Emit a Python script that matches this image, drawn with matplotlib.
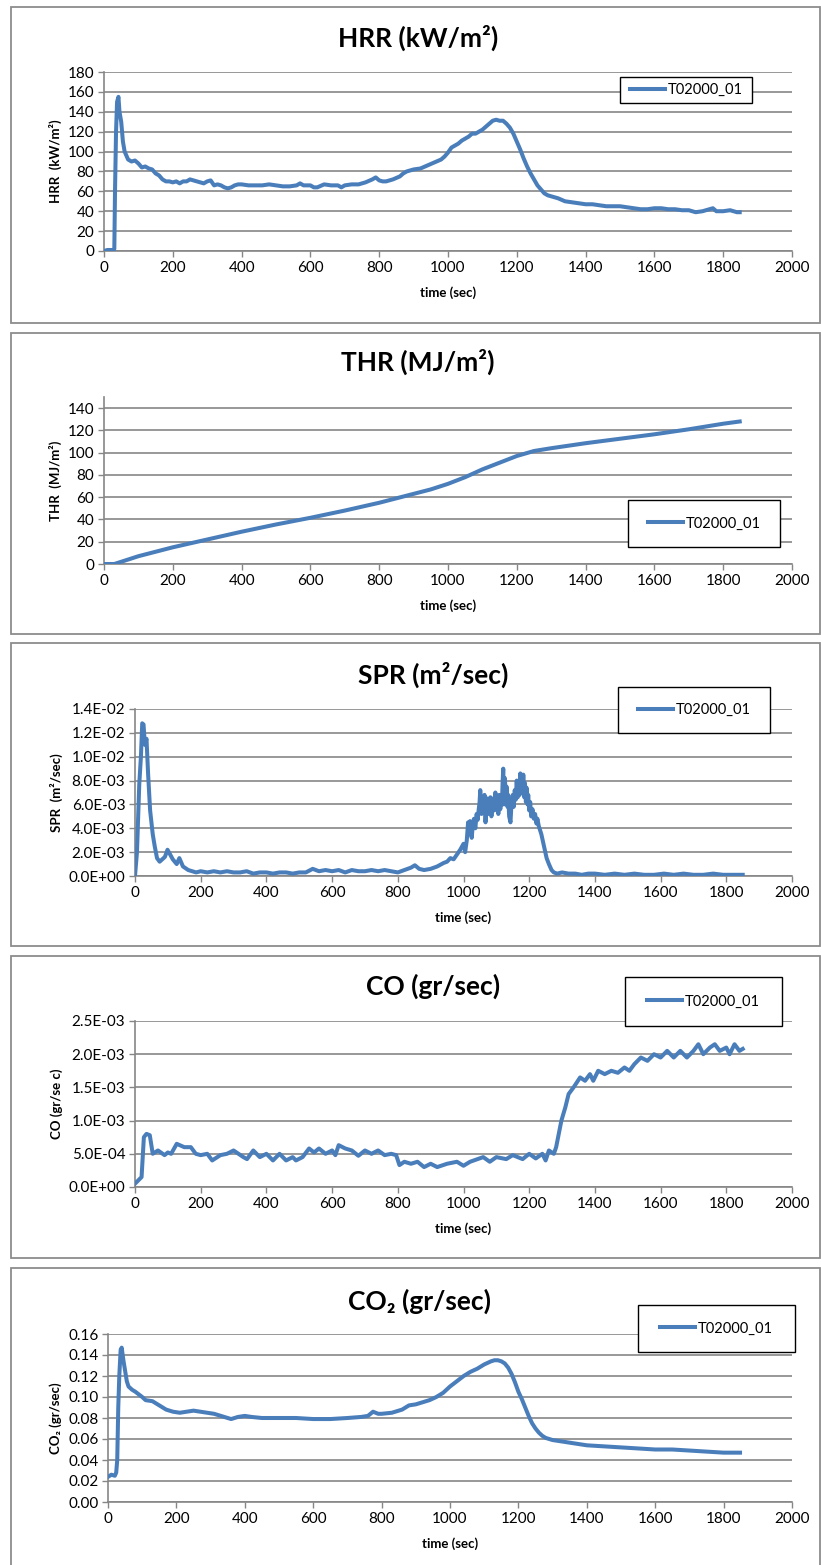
import matplotlib
matplotlib.use("Agg")
import matplotlib.pyplot as plt
from matplotlib.patches import Rectangle
from matplotlib.ticker import FuncFormatter, MultipleLocator

plt.rcParams['font.family'] = ['Lato', 'DejaVu Sans']

series_name = "T02000_01"
xlabel_text = "time (sec)"

# ---------------- data ----------------
hrr_t = [0, 10, 20, 28, 30, 32, 35, 38, 42, 45, 50, 55, 60, 70, 80, 90, 100, 110, 120, 130,
         140, 150, 160, 170, 180, 190, 200, 210, 220, 230, 240, 250, 260, 270, 280, 290, 300,
         310, 320, 330, 340, 350, 360, 370, 380, 390, 400, 420, 440, 460, 480, 500, 520, 540,
         560, 570, 580, 600, 610, 620, 640, 660, 680, 690, 700, 720, 740, 760, 780, 790, 800,
         810, 820, 840, 860, 870, 880, 900, 920, 940, 960, 980, 990, 1000, 1010, 1020, 1030,
         1040, 1060, 1070, 1080, 1100, 1110, 1120, 1130, 1140, 1150, 1160, 1170, 1180, 1190,
         1200, 1210, 1220, 1230, 1240, 1250, 1260, 1270, 1280, 1290, 1300, 1320, 1340, 1360,
         1380, 1400, 1420, 1440, 1460, 1480, 1500, 1520, 1540, 1560, 1580, 1600, 1620, 1640,
         1660, 1680, 1700, 1720, 1740, 1760, 1770, 1780, 1800, 1820, 1840, 1848]
hrr_v = [0, 1, 1, 1, 2, 60, 120, 150, 155, 140, 130, 110, 100, 92, 90, 91, 88, 84, 85, 83,
         82, 78, 76, 72, 70, 70, 69, 70, 68, 70, 70, 72, 71, 70, 69, 68, 70,
         71, 66, 67, 66, 64, 63, 64, 66, 67, 67, 66, 66, 66, 67, 66, 65, 65,
         66, 68, 66, 66, 64, 64, 67, 66, 66, 64, 66, 67, 67, 69, 72, 74, 71,
         70, 70, 72, 75, 78, 80, 82, 83, 86, 89, 92, 95, 99, 104, 106, 108,
         111, 115, 118, 118, 122, 125, 128, 131, 132, 131, 131, 128, 124, 118,
         110, 102, 93, 85, 78, 72, 66, 62, 58, 56, 55, 53, 50, 49,
         48, 47, 47, 46, 45, 45, 45, 44, 43, 42, 42, 43, 43, 42,
         42, 41, 41, 39, 40, 42, 43, 40, 40, 41, 39, 39]

thr_t = [0, 30, 50, 80, 100, 150, 200, 250, 300, 400, 500, 600, 700, 800, 850, 900, 950,
         1000, 1050, 1100, 1150, 1200, 1250, 1300, 1400, 1500, 1600, 1700, 1800, 1848]
thr_v = [0, 0, 2, 5, 7, 11, 15, 18.5, 22, 29, 35.5, 41.5, 48, 55, 59, 63, 67,
         72, 78, 85, 91, 97, 101.5, 104, 108.5, 112.5, 116.5, 121, 126, 128]

spr_t = [0, 6, 13, 18, 22, 26, 30, 35, 40, 46, 54, 60, 67, 75, 83, 91, 99, 107, 115, 121,
         127, 135, 146, 162, 186, 200, 220, 240, 260, 280, 300, 320, 340, 360, 380, 400,
         420, 440, 460, 480, 500, 520, 541, 560, 580, 600, 620, 640, 660, 680, 700, 720,
         740, 760, 780, 800, 820, 840, 852, 865, 880, 900, 920, 940, 950, 960, 970, 980,
         990, 1000, 1005, 1010, 1014, 1017, 1020, 1025, 1029, 1032, 1036, 1040, 1043, 1046,
         1049, 1051, 1055, 1058, 1061, 1064, 1067, 1070, 1073, 1076, 1079, 1082, 1085, 1088,
         1091, 1094, 1097, 1100, 1103, 1106, 1109, 1112, 1115, 1117, 1119, 1121, 1123, 1126,
         1129, 1131, 1134, 1136, 1139, 1143, 1146, 1150, 1153, 1156, 1159, 1162, 1165, 1168,
         1171, 1173, 1175, 1177, 1180, 1182, 1185, 1187, 1190, 1192, 1195, 1197, 1200, 1203,
         1206, 1210, 1214, 1218, 1222, 1225, 1229,
         1237, 1245, 1253, 1260, 1268, 1275, 1285, 1300, 1320, 1340, 1360, 1380, 1400, 1430,
         1460, 1490, 1520, 1550, 1580, 1610, 1640, 1670, 1700, 1730, 1760, 1790, 1820, 1850]
spr_v = [0.0, 0.0020, 0.0077, 0.0100, 0.0128, 0.0127, 0.0110, 0.0115, 0.0085, 0.0055, 0.0035,
         0.0025, 0.0015, 0.0012, 0.0014, 0.0016, 0.0022, 0.0018, 0.0014, 0.0012,
         0.0010, 0.0015, 0.0008, 0.0005, 0.0003, 0.0004, 0.0003, 0.0004, 0.0003, 0.0004,
         0.0003, 0.0003, 0.0004, 0.0002, 0.0003, 0.0003,
         0.0002, 0.0003, 0.0003, 0.0002, 0.0003, 0.0003, 0.0006, 0.0004, 0.0005, 0.0004,
         0.0005, 0.0003, 0.0005, 0.0004, 0.0004, 0.0005,
         0.0004, 0.0005, 0.0004, 0.0003, 0.0005, 0.0007, 0.0009, 0.0006, 0.0005, 0.0006,
         0.0008, 0.0011, 0.0012, 0.0015, 0.0014, 0.0018,
         0.0022, 0.0027, 0.0020, 0.0030, 0.0045, 0.0035, 0.0046, 0.0032, 0.0045, 0.0048,
         0.0040, 0.0052, 0.0047, 0.0055,
         0.0062, 0.0072, 0.0052, 0.0062, 0.0055, 0.0068, 0.0045, 0.0058, 0.0065, 0.0052,
         0.0062, 0.0066, 0.0050, 0.0060,
         0.0065, 0.0055, 0.0070, 0.0058, 0.0066, 0.0052, 0.0068, 0.0056, 0.0066, 0.0060,
         0.0078, 0.0090, 0.0060, 0.0082,
         0.0062, 0.0075, 0.0058, 0.0068, 0.0050, 0.0045, 0.0060, 0.0068, 0.0058, 0.0072,
         0.0064, 0.0080, 0.0066, 0.0075,
         0.0068, 0.0086, 0.0070, 0.0082, 0.0072, 0.0085, 0.0066, 0.0078, 0.0062, 0.0074,
         0.0060, 0.0068, 0.0055, 0.0062,
         0.0050, 0.0056, 0.0048, 0.0052, 0.0044, 0.0048, 0.0042,
         0.0035, 0.0025, 0.0015, 0.0010, 0.0005, 0.0003, 0.0002, 0.0003, 0.0002, 0.0002,
         0.0001, 0.0002, 0.0002, 0.0001,
         0.0002, 0.0001, 0.0002, 0.0001, 0.0001, 0.0002, 0.0001, 0.0002, 0.0001, 0.0001,
         0.0002, 0.0001, 0.0001, 0.0001]

co_t = [0, 10, 20, 27, 35, 45, 54, 70, 90, 100, 110, 127, 150, 170, 185, 200, 220, 235, 260,
        280, 300, 330, 341, 360, 380, 400, 420, 440, 460, 480, 490, 510, 530, 545, 560, 580,
        600, 610, 620, 640, 660, 680, 700, 720, 740, 760, 780, 795, 805, 820, 840, 860, 880,
        900, 920, 950, 980, 1000, 1020, 1060, 1080, 1100, 1130, 1150, 1180, 1200, 1220, 1240,
        1250, 1260, 1275, 1282, 1290, 1298, 1310, 1320, 1335, 1355, 1370, 1385, 1395, 1410,
        1430, 1450, 1470, 1490, 1505, 1520, 1540, 1560, 1580, 1600, 1620, 1640, 1660, 1680,
        1700, 1715, 1730, 1750, 1765, 1780, 1800, 1810, 1825, 1840, 1850]
co_v = [0.5e-4, 1.0e-4, 1.5e-4, 7.5e-4, 8.0e-4, 7.8e-4, 5.0e-4, 5.5e-4, 4.8e-4, 5.2e-4, 5.0e-4,
        6.5e-4, 6.0e-4, 6.0e-4, 5.0e-4, 4.8e-4, 5.0e-4, 4.0e-4, 4.8e-4,
        5.0e-4, 5.5e-4, 4.5e-4, 4.2e-4, 5.5e-4, 4.5e-4, 5.0e-4, 4.0e-4, 5.0e-4, 4.0e-4, 4.5e-4,
        4.0e-4, 4.5e-4, 5.8e-4, 5.2e-4, 5.8e-4, 5.0e-4,
        5.5e-4, 4.8e-4, 6.3e-4, 5.8e-4, 5.5e-4, 4.7e-4, 5.5e-4, 5.0e-4, 5.5e-4, 4.8e-4, 5.0e-4,
        4.8e-4, 3.3e-4, 3.8e-4, 3.5e-4, 3.8e-4, 3.0e-4,
        3.5e-4, 3.0e-4, 3.5e-4, 3.8e-4, 3.2e-4, 3.8e-4, 4.5e-4, 3.8e-4, 4.5e-4, 4.2e-4, 4.8e-4,
        4.2e-4, 5.0e-4, 4.3e-4, 5.0e-4,
        4.0e-4, 5.5e-4, 5.0e-4, 6.0e-4, 8.0e-4, 1.0e-3, 1.2e-3, 1.4e-3, 1.5e-3, 1.65e-3,
        1.6e-3, 1.7e-3, 1.6e-3, 1.75e-3,
        1.7e-3, 1.75e-3, 1.72e-3, 1.8e-3, 1.75e-3, 1.85e-3, 1.95e-3, 1.9e-3, 2.0e-3, 1.95e-3,
        2.05e-3, 1.95e-3, 2.05e-3, 1.95e-3,
        2.05e-3, 2.15e-3, 2.0e-3, 2.1e-3, 2.15e-3, 2.05e-3, 2.1e-3, 2.0e-3, 2.15e-3, 2.05e-3,
        2.08e-3]

co2_t = [0, 10, 20, 24, 27, 30, 33, 37, 40, 45, 50, 55, 60, 70, 80, 100, 110, 130, 150, 170,
         190, 210, 230, 250, 270, 290, 310, 330, 350, 360, 380, 400, 420, 450, 500, 550, 600,
         650, 700, 740, 760, 775, 790, 800, 830, 860, 880, 900, 920, 940, 960, 980, 1000,
         1020, 1040, 1060, 1080, 1100, 1120, 1130, 1140, 1150, 1160, 1170, 1180, 1190, 1200,
         1210, 1220, 1230, 1240, 1250, 1260, 1270, 1280, 1300, 1320, 1340, 1360, 1380, 1400,
         1450, 1500, 1550, 1600, 1650, 1700, 1750, 1800, 1848]
co2_v = [0.024, 0.026, 0.025, 0.028, 0.040, 0.090, 0.120, 0.145, 0.147, 0.135, 0.125, 0.115,
         0.110, 0.107, 0.105, 0.100, 0.097, 0.096, 0.092, 0.088,
         0.086, 0.085, 0.086, 0.087, 0.086, 0.085, 0.084, 0.082, 0.080, 0.079, 0.081, 0.082,
         0.081, 0.080, 0.080, 0.080, 0.079,
         0.079, 0.080, 0.081, 0.082, 0.086, 0.084, 0.084, 0.085, 0.088, 0.092, 0.093, 0.095,
         0.097, 0.100, 0.104, 0.110,
         0.115, 0.120, 0.124, 0.127, 0.131, 0.134, 0.135, 0.135, 0.134, 0.132, 0.128, 0.122,
         0.114, 0.105,
         0.098, 0.090, 0.082, 0.075, 0.070, 0.066, 0.063, 0.061, 0.059, 0.058, 0.057, 0.056,
         0.055, 0.054,
         0.053, 0.052, 0.051, 0.050, 0.050, 0.049, 0.048, 0.047, 0.047]

# ---------------- layout ----------------
W, H = 821, 1565
fig = plt.figure(figsize=(W / 100, H / 100), dpi=100)

GRID = '#868686'
LINE = '#4A7EBB'


def fx(px):
    return px / W


def fy(py):
    return 1 - py / H


def sci(v, pos):
    return "%.1E" % v


panels = [
    dict(t=hrr_t, v=hrr_v, title="HRR (kW/m\u00b2)", ylabel="HRR  (kW/m\u00b2)",
         box=(11, 7, 820, 323), ax=(104, 72, 792, 251), ylim=(0, 180), step=20,
         fmt=None, title_y=38, leg=(620, 77, 752, 103)),
    dict(t=thr_t, v=thr_v, title="THR (MJ/m\u00b2)", ylabel="THR  (MJ/m\u00b2)",
         box=(11, 333, 820, 634), ax=(104, 397, 792, 564), ylim=(0, 150), step=20,
         fmt=None, title_y=362, leg=(628, 500, 780, 547)),
    dict(t=spr_t, v=spr_v, title="SPR (m\u00b2/sec)", ylabel="SPR  (m\u00b2/sec)",
         box=(11, 643, 820, 946), ax=(135, 709, 792, 876), ylim=(0, 0.014), step=0.002,
         fmt=sci, title_y=675, leg=(618, 687, 770, 733)),
    dict(t=co_t, v=co_v, title="CO (gr/sec)", ylabel="CO (gr/se c)",
         box=(11, 956, 820, 1258), ax=(135, 1021, 792, 1187), ylim=(0, 0.0025), step=0.0005,
         fmt=sci, title_y=986, leg=(625, 977, 782, 1026)),
    dict(t=co2_t, v=co2_v, title="CO\u2082 (gr/sec)", ylabel="CO\u2082 (gr/sec)",
         box=(11, 1268, 820, 1575), ax=(108, 1334, 792, 1502), ylim=(0, 0.16), step=0.02,
         fmt="%.2f", title_y=1301, leg=(638, 1305, 795, 1352)),
]

for p in panels:
    bx0, by0, bx1, by1 = p['box']
    fig.patches.append(Rectangle((fx(bx0), fy(by1)), fx(bx1 - bx0), (by1 - by0) / H,
                                 transform=fig.transFigure, fill=False,
                                 edgecolor='#8C8C8C', linewidth=1.3, zorder=0))
    ax0, ay0, ax1, ay1 = p['ax']
    ax = fig.add_axes([fx(ax0), fy(ay1), fx(ax1 - ax0), (ay1 - ay0) / H])
    line, = ax.plot(p['t'], p['v'], color=LINE, linewidth=2.9, solid_joinstyle='round',
                    label=series_name, zorder=3)
    ax.set_xlim(0, 2000)
    ax.set_ylim(*p['ylim'])
    ax.xaxis.set_major_locator(MultipleLocator(200))
    ax.yaxis.set_major_locator(MultipleLocator(p['step']))
    if p['fmt'] is sci:
        ax.yaxis.set_major_formatter(FuncFormatter(sci))
    elif isinstance(p['fmt'], str):
        ax.yaxis.set_major_formatter(FuncFormatter(lambda v, pos, f=p['fmt']: f % v))
    else:
        ax.yaxis.set_major_formatter(FuncFormatter(lambda v, pos: "%d" % round(v)))
    ax.grid(axis='y', color=GRID, linewidth=1.2, zorder=1)
    ax.set_axisbelow(True)
    for s in ['top', 'right']:
        ax.spines[s].set_visible(False)
    for s in ['left', 'bottom']:
        ax.spines[s].set_color(GRID)
        ax.spines[s].set_linewidth(1.2)
    ax.tick_params(axis='both', direction='out', length=4, width=1.0, color=GRID,
                   labelsize=11, pad=3)
    ax.set_facecolor('none')
    ax.set_xlabel(xlabel_text, fontsize=9.5, fontweight='bold', labelpad=8)
    ax.set_ylabel(p['ylabel'], fontsize=9.5, fontweight='bold', labelpad=4)
    fig.text(fx((ax0 + ax1) / 2 - 30), fy(p['title_y']), p['title'], fontsize=19,
             fontweight='bold', ha='center', va='center')
    # legend frame + legend
    lx0, ly0, lx1, ly1 = p['leg']
    fig.patches.append(Rectangle((fx(lx0), fy(ly1)), fx(lx1 - lx0), (ly1 - ly0) / H,
                                 transform=fig.transFigure, facecolor='white',
                                 edgecolor='black', linewidth=1.0, zorder=5))
    leg = fig.legend(handles=[line], labels=[series_name], loc='center',
                     bbox_to_anchor=(fx((lx0 + lx1) / 2), fy((ly0 + ly1) / 2)),
                     bbox_transform=fig.transFigure, frameon=False, fontsize=10.5,
                     handlelength=2.4, handletextpad=0.2, borderaxespad=0, borderpad=0)
    leg.set_zorder(6)

fig.savefig("out.png", dpi=100)
